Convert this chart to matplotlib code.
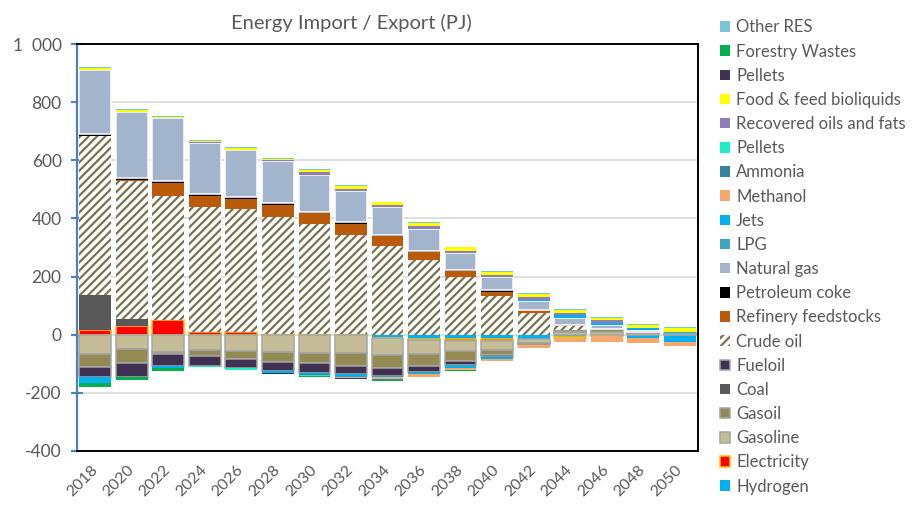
import numpy as np
import matplotlib.pyplot as plt
from matplotlib.patches import Patch

# data (PJ), negative = export
years = [str(y) for y in range(2018, 2051, 2)]

hydrogen = [0, 0, 0, 0, 0, 0, 0, 0, -10, -15, -15, -15, -15, -8, -2, -12, -26]
electricity = [16, 31, 50, 8, 8, 3, 3, 2, -2, -3, -5, -5, 0, -2, -3, 0, 0]
gasoline = [-66, -49, -58, -53, -55, -58, -62, -63, -58, -49, -36, -33, -12, 8, 9, 5, 3]
gasoil = [-46, -49, -8, -20, -30, -35, -36, -45, -46, -41, -33, -17, -9, 8, 10, 5, 3]
coal = [121, 23, 0, 0, 0, 0, 0, 0, 0, 0, 0, 0, 0, 0, 0, 0, 0]
fueloil = [-35, -46, -42, -35, -31, -32, -33, -27, -26, -21, -15, -6, 0, 0, 0, 0, 0]
crude_oil = [546, 474, 427, 432, 425, 403, 378, 341, 305, 257, 200, 134, 76, 15, 0, 0, 0]
refinery = [0, 3, 44, 37, 35, 40, 38, 38, 33, 26, 19, 14, 9, 3, 0, 0, 0]
pet_coke = [7, 8, 9, 7, 7, 6, 3, 8, 4, 4, 2, 5, 0, 0, 0, 0, 0]
natural_gas = [220, 228, 215, 177, 160, 147, 127, 105, 96, 78, 59, 44, 32, 24, 16, 7, 0]
lpg = [0, 0, 0, 0, 0, 0, 0, 0, 0, -2, -2, 0, 0, 0, 0, 0, 0]
jets = [-20, 0, -5, 0, 0, -6, -4, -9, -5, -5, -8, -7, 4, 9, 6, 6, 5]
methanol = [0, 0, 0, 0, 0, 0, 0, -5, -5, -10, -6, -6, -10, -16, -20, -16, -13]
ammonia = [0, 0, 0, 0, 0, 0, -5, 0, -3, 0, -3, 0, 0, 0, 0, 0, 0]
pellets_aqua = [0, 0, 0, -2, -5, 0, -3, 0, 0, 0, 0, 0, 0, 0, 0, 0, 0]
recovered = [0, 0, 0, 1, 2, 2, 9, 7, 8, 9, 9, 8, 9, 9, 9, 0, 0]
food_feed = [6, 5, 5, 5, 5, 5, 10, 12, 9, 9, 11, 11, 11, 10, 9, 10, 11]
pellets_dark = [0, 0, 0, 0, 0, -5, 0, -3, 0, 0, 0, 0, 0, 0, 0, 0, 0]
forestry = [-12, -12, -12, 0, 0, 0, -4, 0, -4, 0, -3, 0, 0, 0, 0, 0, 0]
other_res = [4, 3, 3, 3, 3, 3, 3, 3, 3, 3, 3, 3, 3, 3, 3, 3, 3]

# stacking order (first = closest to zero); name, values, face, edge
series = [
    ("Hydrogen", hydrogen, "#00B0F0", None),
    ("Electricity", electricity, "#FF0000", "#FFC000"),
    ("Gasoline", gasoline, "#C4BD97", "#A6A6A6"),
    ("Gasoil", gasoil, "#948A54", "#A6A6A6"),
    ("Coal", coal, "#595959", None),
    ("Fueloil", fueloil, "#403152", "#A6A6A6"),
    ("Crude oil", crude_oil, "white", "hatch"),
    ("Refinery feedstocks", refinery, "#BA5B0C", None),
    ("Petroleum coke", pet_coke, "#000000", None),
    ("Natural gas", natural_gas, "#A3B5CD", "white"),
    ("LPG", lpg, "#3FA6C0", None),
    ("Jets", jets, "#00B0F0", None),
    ("Methanol", methanol, "#F7A86C", None),
    ("Ammonia", ammonia, "#31859C", None),
    ("Pellets", pellets_aqua, "#1DF0C8", None),
    ("Recovered oils and fats", recovered, "#8F7DB8", None),
    ("Food & feed bioliquids", food_feed, "#FFFF00", None),
    ("Pellets", pellets_dark, "#403152", None),
    ("Forestry Wastes", forestry, "#00B050", None),
    ("Other RES", other_res, "#7CC4D8", None),
]

plt.rcParams['font.family'] = ['Lato', 'DejaVu Sans']
plt.rcParams['hatch.linewidth'] = 1.6
grey = '#595959'
hatch_col = '#7A7352'

fig = plt.figure(figsize=(9.14, 5.07), dpi=100)
ax = fig.add_axes([0.0842, 0.1105, 0.6795, 0.8027])

x = np.arange(len(years))
w = 0.87
pos_bot = np.zeros(len(years))
neg_bot = np.zeros(len(years))
handles = []
for name, vals, face, edge in series:
    v = np.array(vals, dtype=float)
    for mask, bot in ((v > 0, pos_bot), (v < 0, neg_bot)):
        if not mask.any():
            continue
        if edge == "hatch":
            ax.bar(x[mask], v[mask], w, bottom=bot[mask], color=face,
                   edgecolor=hatch_col, linewidth=0, hatch='////', zorder=2)
        elif edge is None:
            ax.bar(x[mask], v[mask], w, bottom=bot[mask], color=face,
                   linewidth=0, zorder=2)
        else:
            ax.bar(x[mask], v[mask], w, bottom=bot[mask], color=face,
                   edgecolor=edge, linewidth=1.1, zorder=2)
    pos_bot += np.where(v > 0, v, 0)
    neg_bot += np.where(v < 0, v, 0)
    if edge == "hatch":
        handles.append(Patch(facecolor=face, edgecolor=hatch_col, hatch='////',
                             linewidth=0, label=name))
    elif edge is None or edge == "white":
        handles.append(Patch(facecolor=face, linewidth=0, label=name))
    else:
        handles.append(Patch(facecolor=face, edgecolor=edge, linewidth=1.1, label=name))

ax.set_xlim(-0.5, len(years) - 0.5)
ax.set_ylim(-400, 1000)
ax.set_yticks(range(-400, 1001, 200))
ax.set_yticklabels(['-400', '-200', '0', '200', '400', '600', '800', '1  000'])
ax.set_xticks(x)
ax.set_xticklabels(years, rotation=45, ha='right', rotation_mode='anchor', va='center')

ax.yaxis.grid(True, color='#D9D9D9', linewidth=1.2)
ax.set_axisbelow(True)

ax.spines['left'].set_color('#4F81BD')
ax.spines['left'].set_linewidth(1.6)
for s in ('top', 'right', 'bottom'):
    ax.spines[s].set_color('black')
    ax.spines[s].set_linewidth(1.4)

ax.tick_params(axis='y', direction='inout', length=9, width=1.5, color='#4F81BD',
               labelcolor=grey, labelsize=12.5, pad=6.5)
ax.tick_params(axis='x', length=0, labelcolor=grey, labelsize=11.5, pad=12)

fig.text(0.384, 0.955, 'Energy Import / Export (PJ)', ha='center', va='center',
         fontsize=14.5, color=grey)

leg = fig.legend(handles=handles[::-1], loc='upper left', bbox_to_anchor=(0.780, 0.975),
                 frameon=False, fontsize=12, labelcolor=grey, handlelength=0.6,
                 handleheight=0.6, handletextpad=0.4, labelspacing=0.49,
                 borderaxespad=0)

fig.savefig('out.png', dpi=100)
